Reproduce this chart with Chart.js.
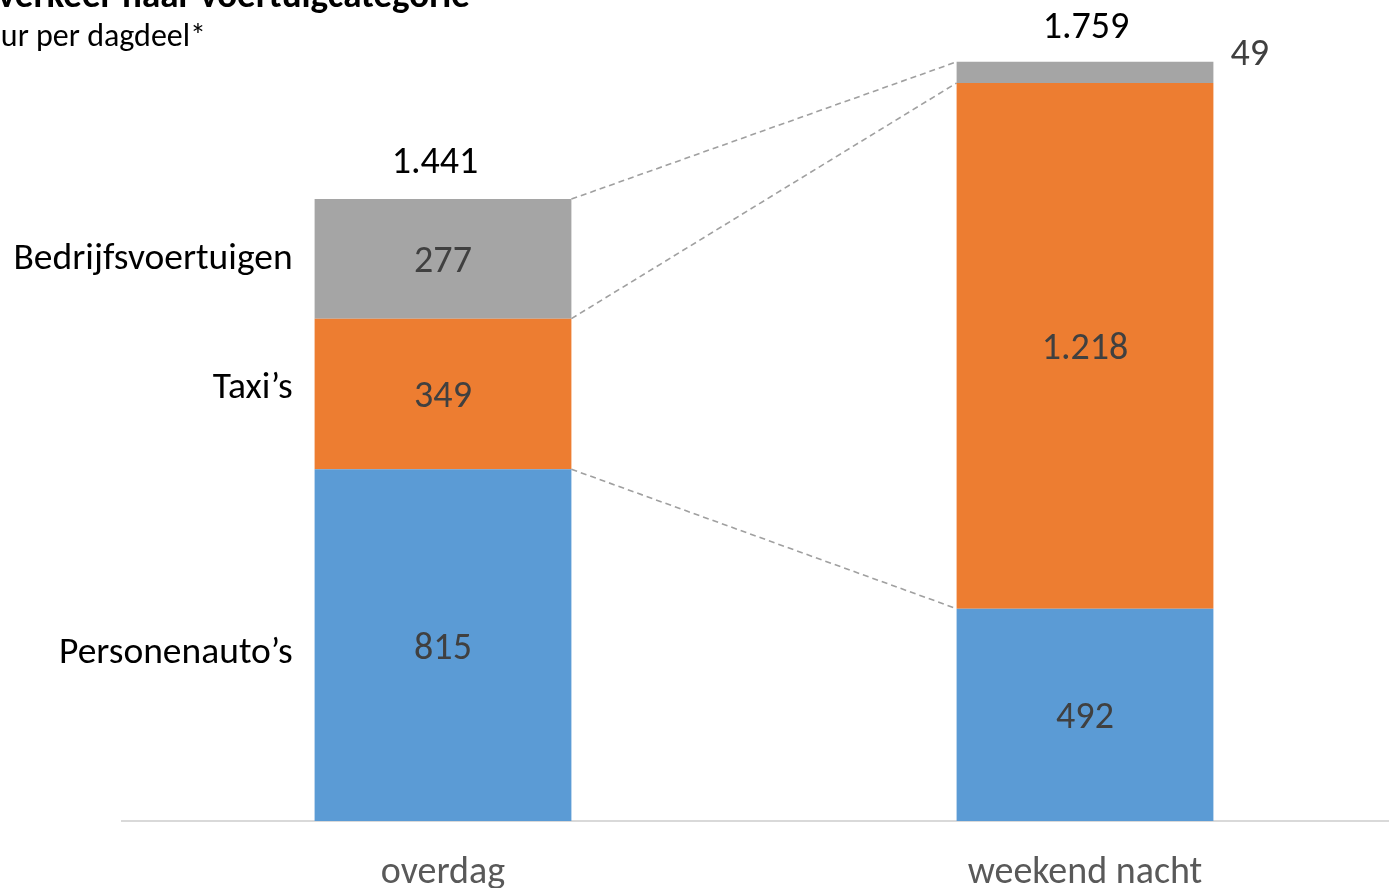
<!DOCTYPE html>
<html>
<head>
<meta charset="utf-8">
<script src="https://cdn.jsdelivr.net/npm/chart.js@4.4.1/dist/chart.umd.min.js"></script>
<style>
html,body{margin:0;padding:0;background:#fff;overflow:hidden;width:1389px;height:888px;}
#wrap{position:absolute;left:0;top:0;width:1420px;height:888px;}
</style>
</head>
<body>
<div id="wrap"><canvas id="c" width="1420" height="888"></canvas></div>
<script>
const categories = ['overdag', 'weekend nacht'];
const seriesNames = ['Personenauto\u2019s', 'Taxi\u2019s', 'Bedrijfsvoertuigen'];
const personenauto = [815, 492];
const taxi = [349, 1218];
const bedrijf = [277, 49];
const totals = [1441, 1759];
const titleText = 'verkeer naar voertuigcategorie';
const subtitleText = 'ur per dagdeel*';

const FONT = 'Carlito, Lato, "Open Sans", sans-serif';
const colors = ['#5b9bd5', '#ed7d31', '#a5a5a5'];
const nameNudge = [8, -5, 1];

function fmt(v) {
  const s = String(Math.round(v));
  return s.replace(/\B(?=(\d{3})+(?!\d))/g, '.');
}

const overlay = {
  id: 'overlay',
  beforeDatasetsDraw(chart) {
    const ctx = chart.ctx;
    ctx.save();
    ctx.strokeStyle = '#a0a0a0';
    ctx.lineWidth = 1.6;
    ctx.setLineDash([6, 4]);
    chart.data.datasets.forEach((ds, i) => {
      const meta = chart.getDatasetMeta(i);
      const a = meta.data[0], b = meta.data[1];
      ctx.beginPath();
      ctx.moveTo(a.x + a.width / 2, a.y);
      ctx.lineTo(b.x - b.width / 2, b.y);
      ctx.stroke();
    });
    ctx.restore();
  },
  afterDatasetsDraw(chart) {
    const ctx = chart.ctx;
    ctx.save();
    ctx.textBaseline = 'middle';
    const fs = 38;
    chart.data.datasets.forEach((ds, i) => {
      const meta = chart.getDatasetMeta(i);
      meta.data.forEach((el, j) => {
        const v = ds.data[j];
        const cy = (el.y + el.base) / 2;
        ctx.font = fs + 'px ' + FONT;
        ctx.fillStyle = '#404040';
        if (el.base - el.y < 40) {
          ctx.textAlign = 'left';
          ctx.fillText(fmt(v), el.x + el.width / 2 + 17, cy - 17);
        } else {
          ctx.textAlign = 'center';
          ctx.fillText(fmt(v), el.x, cy + 4);
        }
        if (j === 0) {
          ctx.fillStyle = '#000';
          ctx.textAlign = 'right';
          ctx.font = '37.5px ' + FONT;
          ctx.fillText(ds.label, el.x - el.width / 2 - 22, cy + nameNudge[i]);
        }
      });
    });
    // totals
    const top = chart.getDatasetMeta(chart.data.datasets.length - 1);
    top.data.forEach((el, j) => {
      ctx.font = fs + 'px ' + FONT;
      ctx.fillStyle = '#000';
      ctx.textAlign = 'center';
      ctx.fillText(fmt(totals[j]), el.x + (j === 0 ? -8 : 1), el.y - (j === 0 ? 36 : 33));
    });
    // title
    ctx.textBaseline = 'alphabetic';
    ctx.textAlign = 'right';
    ctx.font = 'bold 37px ' + FONT;
    ctx.fillStyle = '#000';
    ctx.fillText(titleText, 470, 7);
    ctx.font = '32px ' + FONT;
    ctx.fillText(subtitleText, 206, 46);
    ctx.restore();
  }
};

new Chart(document.getElementById('c'), {
  type: 'bar',
  data: {
    labels: categories,
    datasets: [
      { label: seriesNames[0], data: personenauto, backgroundColor: colors[0] },
      { label: seriesNames[1], data: taxi, backgroundColor: colors[1] },
      { label: seriesNames[2], data: bedrijf, backgroundColor: colors[2] }
    ]
  },
  options: {
    responsive: false,
    animation: false,
    layout: { padding: { left: 122, right: 14, top: 1, bottom: 0 } },
    plugins: { legend: { display: false }, tooltip: { enabled: false } },
    datasets: { bar: { categoryPercentage: 1, barPercentage: 0.4, borderWidth: 0 } },
    scales: {
      x: {
        stacked: true,
        grid: { display: false, drawTicks: false },
        border: { display: true, color: '#d9d9d9', width: 2 },
        ticks: { color: '#595959', font: { family: FONT, size: 38 }, padding: 30 },
        afterFit(scale) { scale.height = 67; }
      },
      y: {
        stacked: true,
        display: false,
        min: 0,
        max: 1900
      }
    }
  },
  plugins: [overlay]
});
</script>
</body>
</html>
